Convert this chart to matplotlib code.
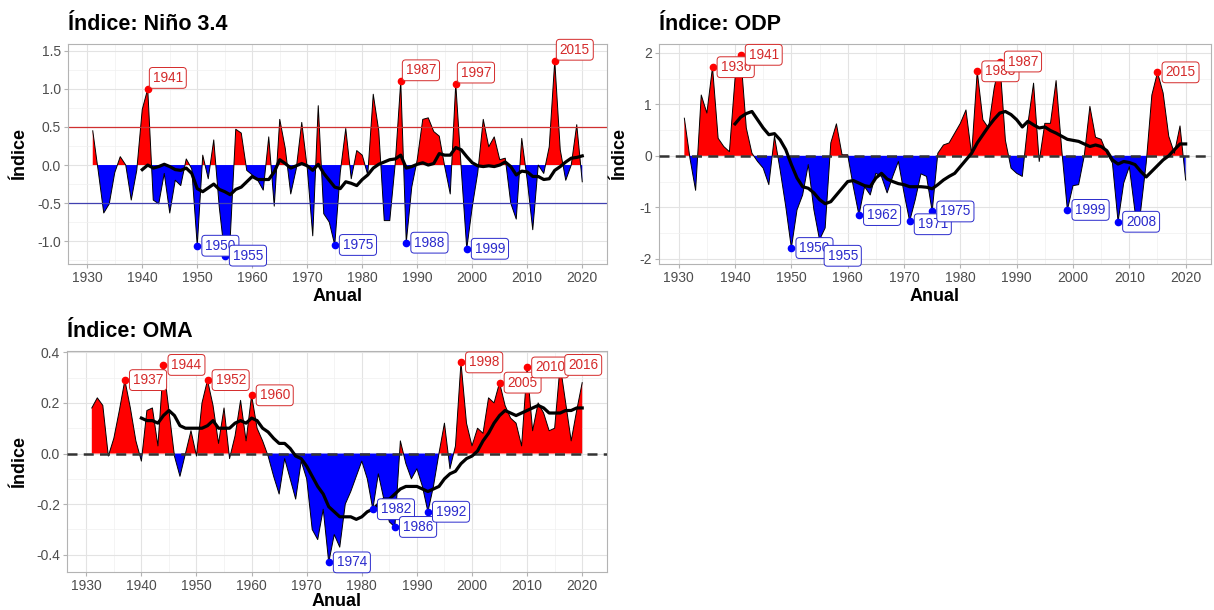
import numpy as np
import matplotlib
matplotlib.use('Agg')
import matplotlib.pyplot as plt
from matplotlib.ticker import MultipleLocator, FormatStrFormatter

plt.rcParams['font.family'] = ['Liberation Sans', 'DejaVu Sans']
plt.rcParams['axes.unicode_minus'] = False

# DATA
years = np.arange(1931, 2021)
years_mm = np.arange(1940, 2021)

nino = [0.45, -0.08, -0.63, -0.51, -0.10, 0.11, 0.00, -0.46, -0.07, 0.73,
        1.00, -0.46, -0.51, -0.11, -0.63, -0.20, -0.27, 0.08, -0.05, -1.06,
        0.13, -0.18, 0.33, -0.55, -1.19, -0.95, 0.47, 0.42, -0.07, -0.13,
        -0.20, -0.33, 0.37, -0.54, 0.60, 0.22, -0.38, -0.05, 0.56, -0.04,
        -0.93, 0.78, -0.64, -0.75, -1.05, -0.10, 0.48, -0.18, 0.19, 0.13,
        -0.13, 0.93, 0.45, -0.73, -0.73, 0.02, 1.10, -1.02, -0.29, 0.07,
        0.60, 0.62, 0.44, 0.38, -0.02, -0.38, 1.07, -0.05, -1.10, -0.55,
        -0.10, 0.60, 0.24, 0.37, 0.07, 0.09, -0.50, -0.71, 0.35, -0.20,
        -0.85, 0.00, -0.11, 0.24, 1.37, 0.20, -0.20, 0.00, 0.53, -0.22]
nino_mm = [-0.06, 0.00, -0.04, -0.02, 0.01, -0.02, -0.06, -0.07, -0.04, -0.11,
           -0.31, -0.35, -0.30, -0.25, -0.32, -0.35, -0.39, -0.32, -0.29, -0.22,
           -0.15, -0.19, -0.19, -0.19, -0.09, 0.07, 0.02, -0.04, -0.01, 0.02,
           -0.01, -0.07, 0.01, -0.11, -0.20, -0.29, -0.31, -0.22, -0.24, -0.27,
           -0.19, -0.13, -0.04, 0.01, 0.04, 0.07, 0.08, 0.13, -0.04, -0.02,
           0.01, 0.03, 0.00, 0.02, 0.15, 0.13, 0.13, 0.23, 0.20, 0.11,
           0.03, -0.01, -0.02, -0.01, -0.02, 0.00, 0.04, -0.02, -0.13, -0.08,
           -0.09, -0.15, -0.15, -0.19, -0.18, -0.07, -0.02, 0.04, 0.09, 0.10,
           0.12]

odp = [0.73, -0.05, -0.67, 1.18, 0.83, 1.72, 0.34, 0.18, 0.08, 1.50,
       1.96, 0.54, 0.05, -0.11, -0.24, -0.56, 0.38, -0.27, -0.98, -1.79,
       -1.05, -0.76, -0.17, -1.05, -1.63, -1.40, 0.25, 0.62, 0.02, 0.02,
       -0.60, -1.15, -0.60, -0.76, -0.34, -0.40, -0.72, -0.40, -0.11, -0.72,
       -1.27, -0.85, -0.35, -0.40, -1.08, 0.05, 0.21, 0.25, 0.44, 0.63,
       0.89, 0.02, 1.64, 0.70, 0.54, 1.31, 1.83, 0.30, -0.24, -0.34,
       -0.40, 0.63, 1.41, -0.11, 0.63, 0.63, 1.46, 0.12, -1.05, -0.58,
       -0.56, 0.00, 0.96, 0.36, 0.32, 0.05, -0.14, -1.28, -0.53, -0.21,
       -1.08, -1.08, -0.14, 1.18, 1.62, 1.22, 0.38, 0.05, 0.58, -0.47]
odp_mm = [0.62, 0.75, 0.82, 0.86, 0.70, 0.54, 0.41, 0.43, 0.31, 0.12,
          -0.17, -0.43, -0.60, -0.63, -0.72, -0.85, -0.93, -0.89, -0.76, -0.63,
          -0.50, -0.48, -0.53, -0.58, -0.60, -0.43, -0.34, -0.45, -0.50, -0.54,
          -0.56, -0.60, -0.60, -0.60, -0.61, -0.64, -0.56, -0.47, -0.40, -0.34,
          -0.21, -0.08, 0.05, 0.25, 0.41, 0.57, 0.71, 0.83, 0.86, 0.80,
          0.70, 0.56, 0.67, 0.60, 0.54, 0.56, 0.49, 0.44, 0.38, 0.32,
          0.30, 0.28, 0.23, 0.18, 0.21, 0.18, 0.10, -0.08, -0.16, -0.11,
          -0.13, -0.17, -0.30, -0.41, -0.30, -0.19, -0.08, 0.00, 0.12, 0.23,
          0.23]

oma = [0.18, 0.22, 0.19, -0.01, 0.06, 0.17, 0.29, 0.18, 0.05, -0.03,
       0.17, 0.18, 0.03, 0.35, 0.17, -0.01, -0.09, 0.00, 0.09, -0.01,
       0.20, 0.29, 0.19, 0.04, 0.18, -0.02, 0.07, 0.21, 0.05, 0.23,
       0.10, 0.05, -0.01, -0.09, -0.16, -0.02, -0.10, -0.18, -0.03, -0.10,
       -0.30, -0.34, -0.22, -0.43, -0.32, -0.37, -0.20, -0.15, -0.09, -0.03,
       -0.10, -0.22, -0.08, -0.18, -0.27, -0.29, 0.05, -0.04, -0.10, -0.06,
       -0.13, -0.23, -0.13, 0.00, 0.12, -0.06, 0.03, 0.36, 0.12, 0.03,
       0.10, 0.08, 0.22, 0.20, 0.28, 0.19, 0.14, 0.12, 0.03, 0.34,
       0.09, 0.20, 0.16, 0.09, 0.10, 0.35, 0.20, 0.05, 0.17, 0.28]
oma_mm = [0.14, 0.13, 0.13, 0.12, 0.15, 0.17, 0.15, 0.11, 0.10, 0.10,
          0.10, 0.10, 0.11, 0.13, 0.10, 0.10, 0.10, 0.12, 0.13, 0.12,
          0.14, 0.13, 0.10, 0.085, 0.06, 0.04, 0.04, 0.02, -0.01, -0.02,
          -0.05, -0.09, -0.13, -0.16, -0.21, -0.23, -0.25, -0.25, -0.25, -0.26,
          -0.25, -0.23, -0.22, -0.20, -0.18, -0.18, -0.16, -0.14, -0.13, -0.13,
          -0.13, -0.14, -0.15, -0.14, -0.13, -0.10, -0.08, -0.07, -0.04, -0.02,
          -0.01, 0.01, 0.05, 0.08, 0.12, 0.15, 0.17, 0.16, 0.15, 0.16,
          0.17, 0.18, 0.19, 0.18, 0.16, 0.16, 0.16, 0.17, 0.17, 0.18,
          0.18]

nino_hi = [1941, 1987, 1997, 2015]
nino_lo = [1950, 1955, 1975, 1988, 1999]
odp_hi = [1936, 1941, 1983, 1987, 2015]
odp_lo = [1950, 1955, 1962, 1971, 1975, 1999, 2008]
oma_hi = [1937, 1944, 1952, 1960, 1998, 2005, 2010, 2016]
oma_lo = [1974, 1982, 1986, 1992]

RED = '#ff0000'
BLUE = '#0000ff'
TXT_RED = '#d42a2a'
TXT_BLUE = '#2a2acc'
GRID = '#e3e3e3'


def base_panel(ax, title, ymaj, ymin, fmt, ylim, ylab_x, xlab_y):
    ax.set_xlim(1926.5, 2024.5)
    ax.set_ylim(*ylim)
    ax.xaxis.set_major_locator(MultipleLocator(10))
    ax.xaxis.set_minor_locator(MultipleLocator(5))
    ax.yaxis.set_major_locator(MultipleLocator(ymaj))
    ax.yaxis.set_minor_locator(MultipleLocator(ymin))
    ax.yaxis.set_major_formatter(FormatStrFormatter(fmt))
    ax.grid(which='major', color=GRID, lw=0.8)
    ax.grid(which='minor', color='#f0f0f0', lw=0.5)
    ax.set_axisbelow(True)
    for s in ax.spines.values():
        s.set_color('#b3b3b3')
        s.set_linewidth(0.8)
    ax.tick_params(which='major', length=3, color='#b3b3b3', labelsize=10,
                   labelcolor='#4d4d4d', pad=2)
    ax.tick_params(which='minor', length=0)
    ax.set_title(title, loc='left', fontsize=15.5, fontweight='bold', pad=10)
    ax.set_ylabel('Índice', fontsize=13, fontweight='bold')
    ax.set_xlabel('Anual', fontsize=13, fontweight='bold')
    ax.yaxis.set_label_coords(ylab_x, 0.5)
    ax.xaxis.set_label_coords(0.5, xlab_y)


def draw_series(ax, vals, mm):
    v = np.array(vals)
    ax.fill_between(years, v, 0, where=v >= 0, interpolate=True, color=RED, lw=0)
    ax.fill_between(years, v, 0, where=v <= 0, interpolate=True, color=BLUE, lw=0)
    ax.plot(years, v, color='black', lw=0.7)


def label(ax, yr, val, col, tcol, off=(8, 0), va='center'):
    ax.plot(yr, val, 'o', color=col, ms=4.5, zorder=6)
    ax.annotate(str(yr), (yr, val), xytext=off, textcoords='offset pixels',
                ha='left', va=va, fontsize=9.8, color=tcol, zorder=7,
                bbox=dict(boxstyle='round,pad=0.25', fc='white', ec=tcol, lw=0.7))


fig = plt.figure(figsize=(12.14, 6.10), dpi=100)

# Niño 3.4
ax1 = fig.add_axes([68 / 1214, 1 - 264 / 610, 539 / 1214, 220 / 610])
base_panel(ax1, 'Índice: Niño 3.4', 0.5, 0.25, '%.1f', (-1.30, 1.59), -0.074, -0.11)
draw_series(ax1, nino, nino_mm)
ax1.axhline(0.5, color='#d03030', lw=0.9)
ax1.axhline(-0.5, color='#4040b0', lw=0.9)
ax1.plot(years_mm, nino_mm, color='black', lw=2.3, zorder=5)
for yr in nino_hi:
    label(ax1, yr, nino[yr - 1931], RED, TXT_RED, off=(5, 4), va='bottom')
for yr in nino_lo:
    label(ax1, yr, nino[yr - 1931], BLUE, TXT_BLUE)

# ODP
ax2 = fig.add_axes([659 / 1214, 1 - 264 / 610, 552 / 1214, 220 / 610])
base_panel(ax2, 'Índice: ODP', 1, 0.5, '%d', (-2.10, 2.17), -0.056, -0.11)
draw_series(ax2, odp, odp_mm)
ax2.axhline(0, color='#333333', lw=1.8, ls=(0, (4, 2.5)), zorder=4)
ax2.plot(years_mm, odp_mm, color='black', lw=2.3, zorder=5)
for yr in odp_hi:
    label(ax2, yr, odp[yr - 1931], RED, TXT_RED)
for yr in odp_lo:
    off = (8, 0)
    if yr == 1955:
        off = (8, -16)
    elif yr == 1971:
        off = (8, -3)
    label(ax2, yr, odp[yr - 1931], BLUE, TXT_BLUE, off=off)

# OMA
ax3 = fig.add_axes([67 / 1214, 1 - 572 / 610, 540 / 1214, 221 / 610])
base_panel(ax3, 'Índice: OMA', 0.2, 0.1, '%.1f', (-0.468, 0.405), -0.072, -0.095)
draw_series(ax3, oma, oma_mm)
ax3.axhline(0, color='#333333', lw=1.8, ls=(0, (4, 2.5)), zorder=4)
ax3.plot(years_mm, oma_mm, color='black', lw=2.3, zorder=5)
for yr in oma_hi:
    label(ax3, yr, oma[yr - 1931], RED, TXT_RED)
for yr in oma_lo:
    label(ax3, yr, oma[yr - 1931], BLUE, TXT_BLUE)

plt.savefig('out.png', dpi=100)
